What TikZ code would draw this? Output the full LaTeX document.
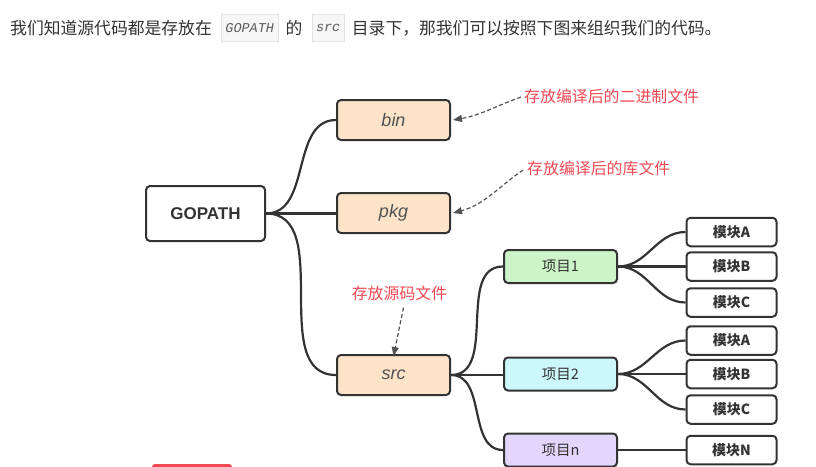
\documentclass[tikz,border=0pt]{standalone}
\usepackage{fontspec}
\setmainfont{Liberation Sans}
\newfontfamily\cjk{Noto Sans CJK SC}
\newfontfamily\codefont{Liberation Mono}
\usetikzlibrary{arrows.meta}
\definecolor{linec}{HTML}{333333}
\definecolor{peach}{HTML}{FDE4C9}
\definecolor{mint}{HTML}{CDF3C9}
\definecolor{aqua}{HTML}{CCF7FB}
\definecolor{lilac}{HTML}{E3D5FB}
\definecolor{note}{HTML}{F04A55}
\definecolor{txt}{HTML}{333333}
\definecolor{codebg}{HTML}{F7F7F7}
\definecolor{codeln}{HTML}{E2E2E2}
\tikzset{
  box/.style={draw=linec, line width=2pt, rounded corners=4pt, inner sep=0pt},
  dirbox/.style={box, fill=peach, minimum width=113pt, minimum height=40pt,
     font=\fontsize{18}{18}\selectfont\itshape, text=txt!85},
  projbox/.style={box, minimum width=113pt, minimum height=33pt,
     font=\cjk\fontsize{14.5}{14.5}\selectfont, text=txt},
  modbox/.style={box, fill=white, minimum width=90pt, minimum height=28.5pt,
     font=\cjk\bfseries\fontsize{14}{14}\selectfont, text=txt},
  conn/.style={draw=linec, line width=2.2pt},
  notearrow/.style={draw=linec!85, line width=1.2pt, dash pattern=on 4pt off 2.5pt,
     -{Triangle[length=9pt,width=7pt]}},
  notetext/.style={font=\cjk\fontsize{15.9}{16}\selectfont, text=note, inner sep=0pt},
  toptext/.style={font=\cjk\fontsize{16.8}{17}\selectfont, text=txt, inner sep=0pt, anchor=west},
  codebox/.style={draw=codeln, fill=codebg, line width=0.8pt, inner xsep=4pt,
     minimum height=27pt, anchor=west, font=\codefont\itshape\fontsize{13.5}{14}\selectfont, text=txt!80}
}
\begin{document}
\begin{tikzpicture}[x=1pt,y=-1pt]
\path[use as bounding box] (0,0) rectangle (816,466);
\clip (0,0) rectangle (816,466);
\fill[white] (0,0) rectangle (816,466);

% top sentence
\node[toptext] (t1) at (10,28) {我们知道源代码都是存放在};
\node[codebox] (c1) at ([xshift=9pt]t1.east) {GOPATH};
\node[toptext] (t2) at ([xshift=7pt]c1.east) {的};
\node[codebox] (c2) at ([xshift=9pt]t2.east) {src};
\node[toptext] (t3) at ([xshift=7pt]c2.east) {目录下，那我们可以按照下图来组织我们的代码。};

% main nodes
\node[box, fill=white, minimum width=119pt, minimum height=55pt,
      font=\bfseries\fontsize{17}{17}\selectfont, text=txt] (gopath) at (205.5,213.5) {GOPATH};
\node[dirbox] (bin) at (393.5,120) {bin};
\node[dirbox] (pkg) at (393.5,213) {pkg};
\node[dirbox] (src) at (393.5,375) {src};

\node[projbox, fill=mint] (p1) at (560.5,266.5) {项目1};
\node[projbox, fill=aqua] (p2) at (560.5,374) {项目2};
\node[projbox, fill=lilac] (pn) at (560.5,450) {项目n};

\node[modbox] (m1a) at (731.5,232) {模块A};
\node[modbox] (m1b) at (731.5,266.5) {模块B};
\node[modbox] (m1c) at (731.5,302.5) {模块C};
\node[modbox] (m2a) at (731.5,340.5) {模块A};
\node[modbox] (m2b) at (731.5,374) {模块B};
\node[modbox] (m2c) at (731.5,409.5) {模块C};
\node[modbox] (mn) at (731.5,450) {模块N};

% connectors
\draw[conn] (gopath.east) to[out=0,in=180] (bin.west);
\draw[conn] (gopath.east) -- (pkg.west |- gopath.east);
\draw[conn] (gopath.east) to[out=0,in=180] (src.west);

\draw[conn] (src.east) to[out=0,in=180] (p1.west);
\draw[conn] (src.east) -- (p2.west |- src.east);
\draw[conn] (src.east) to[out=0,in=180] (pn.west);

\draw[conn] (p1.east) to[out=0,in=180] (m1a.west);
\draw[conn] (p1.east) -- (m1b.west);
\draw[conn] (p1.east) to[out=0,in=180] (m1c.west);

\draw[conn] (p2.east) to[out=0,in=180] (m2a.west);
\draw[conn] (p2.east) -- (m2b.west);
\draw[conn] (p2.east) to[out=0,in=180] (m2c.west);

\draw[conn] (pn.east) -- (mn.west);

% notes
\node[notetext, anchor=west] (n1) at (524,96) {存放编译后的二进制文件};
\node[notetext, anchor=west] (n2) at (527,168) {存放编译后的库文件};
\node[notetext] (n3) at (399.5,293) {存放源码文件};

\coordinate (a1) at ([xshift=-3pt,yshift=-1pt]n1.west);
\coordinate (a2) at ([xshift=-4pt,yshift=-2pt]n2.west);
\coordinate (a3) at ([xshift=4pt,yshift=-7pt]n3.south);
\draw[notearrow] (a1) to[out=200,in=10] ([xshift=2pt]bin.east);
\draw[notearrow] (a2) to[out=215,in=15] ([xshift=2pt]pkg.east);
\draw[notearrow] (a3) -- ([yshift=-2pt]src.north);

% clipped red button at the bottom edge
\node[fill=note, rounded corners=3pt, minimum width=80pt, minimum height=10pt, inner sep=0pt]
  (btn) at (192,469) {};
\end{tikzpicture}
\end{document}
